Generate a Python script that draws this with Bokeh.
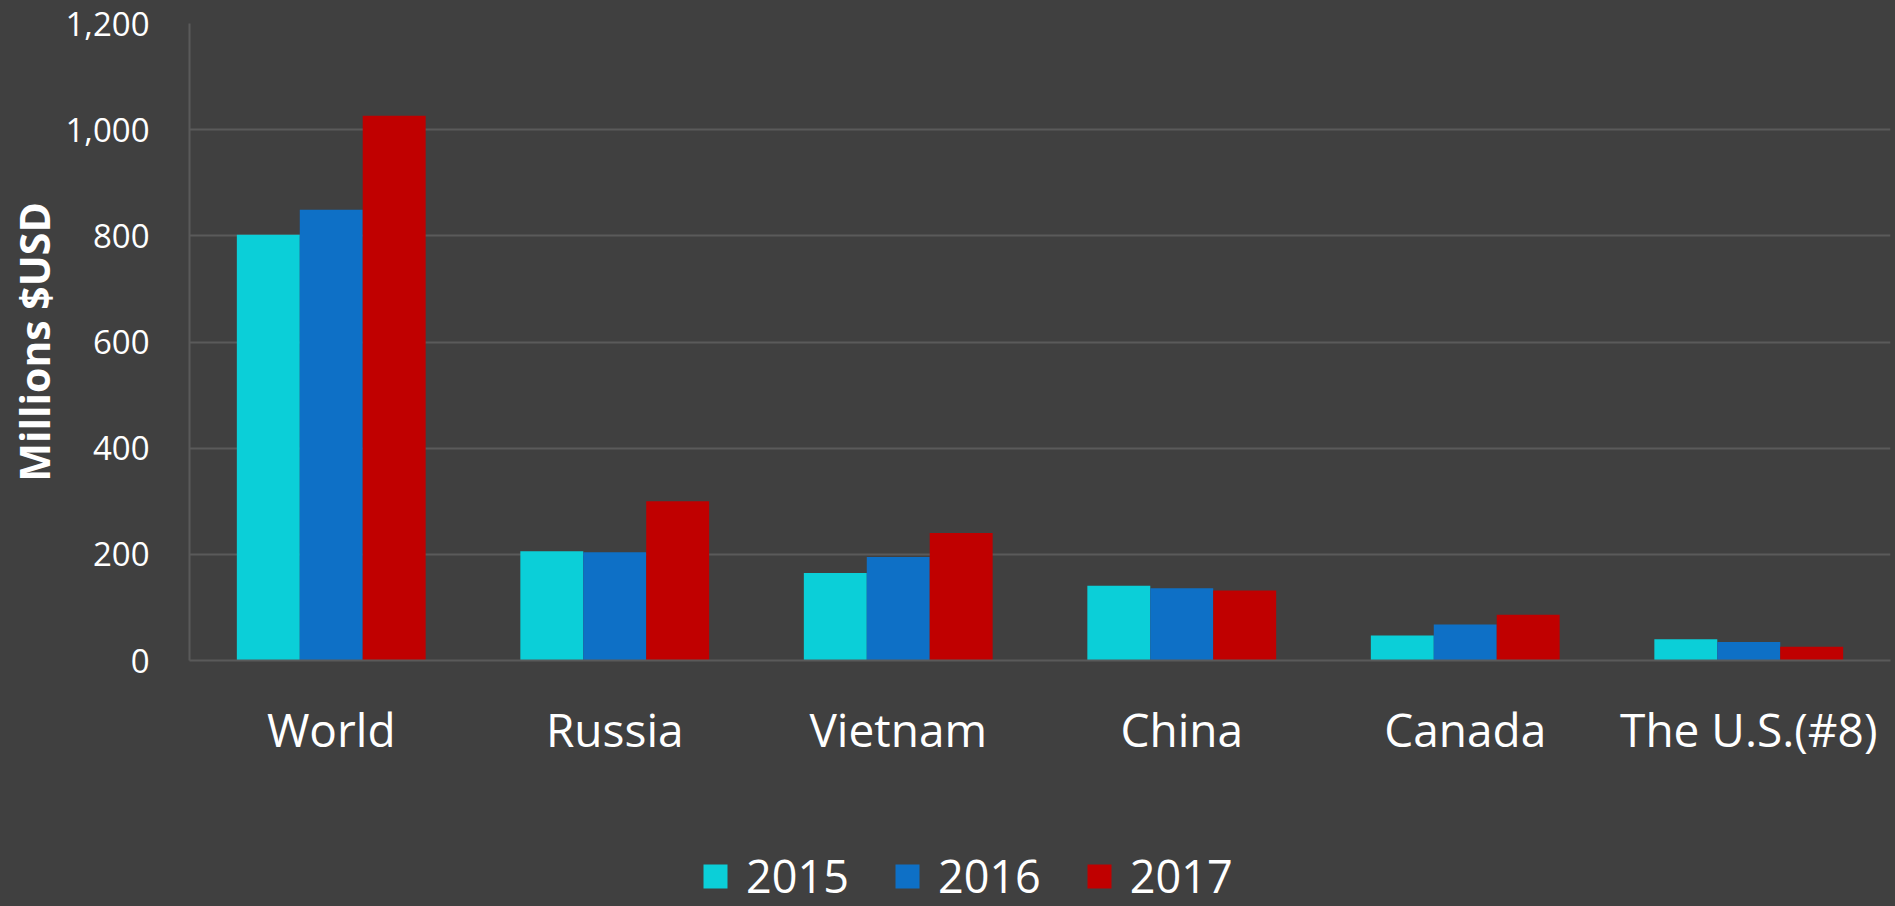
from bokeh.plotting import figure
from bokeh.layouts import column
from bokeh.models import (ColumnDataSource, FactorRange, Range1d, FixedTicker,
                          NumeralTickFormatter, Legend, LegendItem)
from bokeh.transform import dodge
from bokeh.embed import file_html
from bokeh.resources import INLINE

countries = ["World", "Russia", "Vietnam", "China", "Canada", "The U.S.(#8)"]
years = ["2015", "2016", "2017"]
v2015 = [802, 206, 165, 141, 47, 40]
v2016 = [849, 204, 195, 136, 68, 35]
v2017 = [1026, 300, 240, 132, 86, 26]
y_ticks = [0, 200, 400, 600, 800, 1000, 1200]
colors = ["#0BCFD8", "#0E70C6", "#C00000"]

BG = "#404040"
GRID = "#5a5a5a"
FONT = "Open Sans"
W = 1895

source = ColumnDataSource(data=dict(country=countries, y2015=v2015, y2016=v2016, y2017=v2017))
cols = ["y2015", "y2016", "y2017"]
bw = 0.222
offsets = [-bw, 0, bw]

p = figure(width=W, height=770, output_backend="svg", toolbar_location=None,
           x_range=FactorRange(*countries, range_padding=0),
           y_range=Range1d(0, 1200),
           min_border_left=189, min_border_right=5, min_border_top=23, min_border_bottom=110)

p.background_fill_color = BG
p.border_fill_color = BG
p.outline_line_color = None

for off, col, c in zip(offsets, cols, colors):
    p.vbar(x=dodge("country", off, range=p.x_range), top=col, width=bw, source=source,
           fill_color=c, line_color=None)

p.xgrid.visible = False
p.ygrid.grid_line_color = GRID
p.ygrid.grid_line_width = 2
p.yaxis.ticker = FixedTicker(ticks=y_ticks)
p.yaxis.formatter = NumeralTickFormatter(format="0,0")

for ax in (p.xaxis[0], p.yaxis[0]):
    ax.axis_line_color = GRID
    ax.axis_line_width = 2
    ax.major_tick_line_color = None
    ax.minor_tick_line_color = None
    ax.major_label_text_color = "white"
    ax.major_label_text_font = FONT

p.yaxis.major_label_text_font_size = "33px"
p.yaxis.major_label_standoff = 34
p.yaxis.axis_label = "Millions $USD"
p.yaxis.axis_label_text_font = FONT
p.yaxis.axis_label_text_font_style = "bold"
p.yaxis.axis_label_text_font_size = "41px"
p.yaxis.axis_label_text_color = "white"
p.yaxis.axis_label_standoff = 0

p.xaxis.major_label_text_font_size = "46px"
p.xaxis.major_label_standoff = 31

# legend strip below the chart; its (hidden) bars only feed the legend swatches
q = figure(width=W, height=136, output_backend="svg", toolbar_location=None,
           x_range=FactorRange(*countries, range_padding=0), y_range=Range1d(0, 1200),
           x_axis_type=None, y_axis_type=None,
           min_border_left=0, min_border_right=0, min_border_top=0, min_border_bottom=0)
q.background_fill_color = BG
q.border_fill_color = BG
q.outline_line_color = None
q.grid.visible = False

items = []
for y, off, col, c in zip(years, offsets, cols, colors):
    r = q.vbar(x=dodge("country", off, range=q.x_range), top=col, width=bw, source=source,
               fill_color=c, line_color=None, visible=False)
    items.append(LegendItem(label=y, renderers=[r]))

legend = Legend(items=items, orientation="horizontal", location=(511, 0),
                glyph_width=30, glyph_height=30, label_standoff=16, spacing=43,
                padding=0, margin=0, border_line_color=None, background_fill_alpha=0,
                label_text_color="white", label_text_font=FONT, label_text_font_size="45px")
q.add_layout(legend, "center")

layout = column(p, q, spacing=0, styles={"background-color": BG})
open("out.html", "w").write(file_html(layout, INLINE))
